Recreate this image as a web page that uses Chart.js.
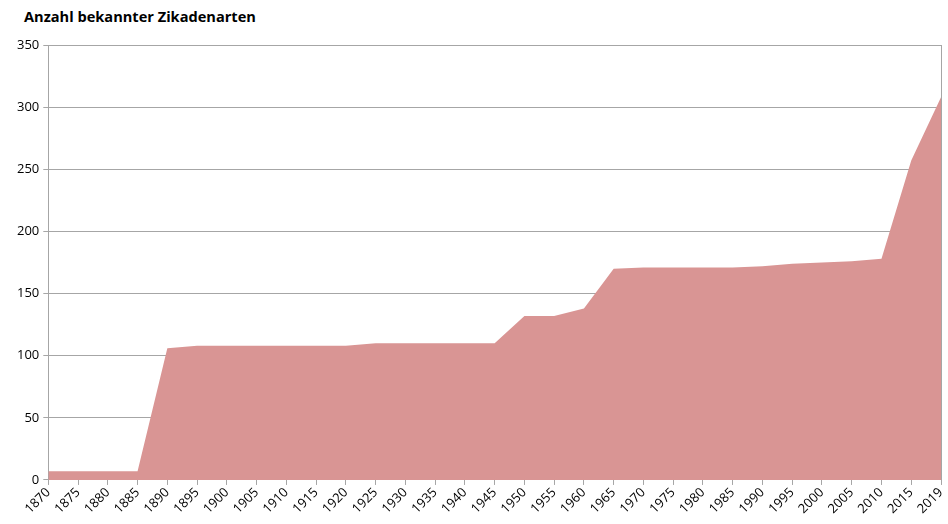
<!DOCTYPE html>
<html>
<head>
<meta charset="utf-8">
<script src="https://cdn.jsdelivr.net/npm/chart.js@4/dist/chart.umd.min.js"></script>
<style>
  html, body { margin: 0; padding: 0; background: #fff; }
  #wrap { position: relative; width: 948px; height: 524px; }
  #title { position: absolute; left: 24px; top: 6px; font: bold 14.6px "Open Sans", sans-serif; color: #000; }
  canvas { position: absolute; left: 0; top: 0; }
</style>
</head>
<body>
<div id="wrap">
  <div id="title">Anzahl bekannter Zikadenarten</div>
  <canvas id="chart" width="948" height="524"></canvas>
</div>
<script>
const years = ["1870","1875","1880","1885","1890","1895","1900","1905","1910","1915",
  "1920","1925","1930","1935","1940","1945","1950","1955","1960","1965",
  "1970","1975","1980","1985","1990","1995","2000","2005","2010","2015","2019"];
const species = [7, 7, 7, 7, 106, 108, 108, 108, 108, 108,
  108, 110, 110, 110, 110, 110, 132, 132, 138, 170,
  171, 171, 171, 171, 172, 174, 175, 176, 178, 257, 308];
const yTicks = [0, 50, 100, 150, 200, 250, 300, 350];

const axisGray = "#a6a6a6";
const tickFont = { family: "Open Sans", size: 13 };

new Chart(document.getElementById("chart"), {
  type: "line",
  data: {
    labels: years,
    datasets: [{
      data: species,
      fill: "origin",
      backgroundColor: "#d99594",
      borderWidth: 0,
      pointRadius: 0,
      tension: 0
    }]
  },
  options: {
    responsive: false,
    animation: false,
    layout: { padding: { top: 45, right: 7, left: 13, bottom: 7 } },
    plugins: { legend: { display: false }, tooltip: { enabled: false } },
    scales: {
      x: {
        offset: false,
        afterFit: axis => { axis.paddingRight = 0; },
        grid: { drawOnChartArea: false, drawTicks: true, tickLength: 5, color: axisGray },
        border: { color: axisGray },
        ticks: { autoSkip: false, maxRotation: 45, minRotation: 45, color: "#000", font: tickFont, padding: 0 }
      },
      y: {
        min: 0,
        max: 350,
        afterBuildTicks: axis => { axis.ticks = yTicks.map(v => ({ value: v })); },
        grid: { color: axisGray, tickLength: 5 },
        border: { color: axisGray },
        ticks: { color: "#000", font: tickFont, padding: 4 }
      },
      yR: {
        position: "right",
        min: 0,
        max: 350,
        afterFit: axis => { axis.width = 0; },
        grid: { drawOnChartArea: false, drawTicks: false },
        border: { color: axisGray },
        ticks: { display: false }
      }
    }
  }
});
</script>
</body>
</html>
